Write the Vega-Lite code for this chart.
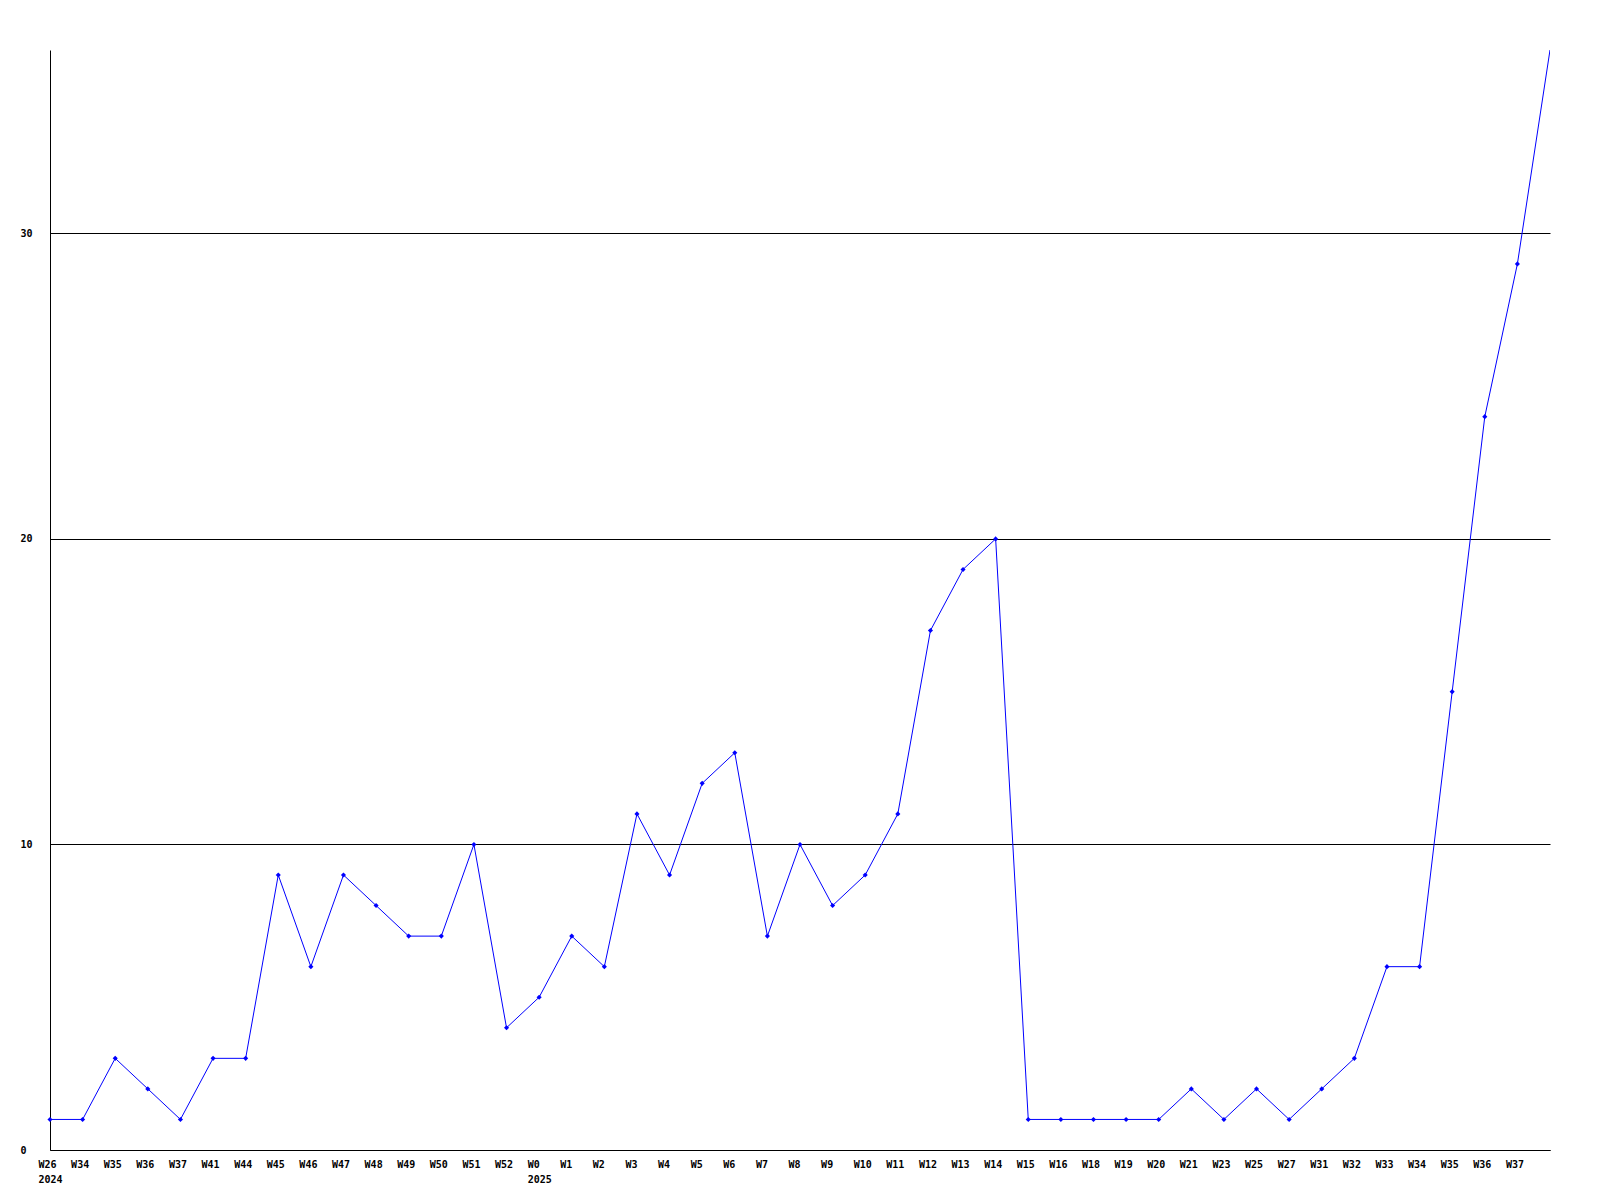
{
  "$schema": "https://vega.github.io/schema/vega-lite/v6.json",
  "width": 1500,
  "height": 1100,
  "autosize": {"type": "none"},
  "padding": {"left": 50, "top": 50, "right": 50, "bottom": 50},
  "background": "white",
  "config": {
    "view": {"stroke": null},
    "axis": {"labelFont": "DejaVu Sans Mono", "labelFontWeight": "bold", "labelFontSize": 10, "labelColor": "black", "domainColor": "black", "domainWidth": 1, "ticks": false}
  },
  "data": {
    "values": [
      {"key": "2024 W26", "count": 1},
      {"key": "2024 W34", "count": 1},
      {"key": "2024 W35", "count": 3},
      {"key": "2024 W36", "count": 2},
      {"key": "2024 W37", "count": 1},
      {"key": "2024 W41", "count": 3},
      {"key": "2024 W44", "count": 3},
      {"key": "2024 W45", "count": 9},
      {"key": "2024 W46", "count": 6},
      {"key": "2024 W47", "count": 9},
      {"key": "2024 W48", "count": 8},
      {"key": "2024 W49", "count": 7},
      {"key": "2024 W50", "count": 7},
      {"key": "2024 W51", "count": 10},
      {"key": "2024 W52", "count": 4},
      {"key": "2025 W0", "count": 5},
      {"key": "2025 W1", "count": 7},
      {"key": "2025 W2", "count": 6},
      {"key": "2025 W3", "count": 11},
      {"key": "2025 W4", "count": 9},
      {"key": "2025 W5", "count": 12},
      {"key": "2025 W6", "count": 13},
      {"key": "2025 W7", "count": 7},
      {"key": "2025 W8", "count": 10},
      {"key": "2025 W9", "count": 8},
      {"key": "2025 W10", "count": 9},
      {"key": "2025 W11", "count": 11},
      {"key": "2025 W12", "count": 17},
      {"key": "2025 W13", "count": 19},
      {"key": "2025 W14", "count": 20},
      {"key": "2025 W15", "count": 1},
      {"key": "2025 W16", "count": 1},
      {"key": "2025 W18", "count": 1},
      {"key": "2025 W19", "count": 1},
      {"key": "2025 W20", "count": 1},
      {"key": "2025 W21", "count": 2},
      {"key": "2025 W23", "count": 1},
      {"key": "2025 W25", "count": 2},
      {"key": "2025 W27", "count": 1},
      {"key": "2025 W31", "count": 2},
      {"key": "2025 W32", "count": 3},
      {"key": "2025 W33", "count": 6},
      {"key": "2025 W34", "count": 6},
      {"key": "2025 W35", "count": 15},
      {"key": "2025 W36", "count": 24},
      {"key": "2025 W37", "count": 29},
      {"key": "2025 W38", "count": 36}
    ]
  },
  "encoding": {
    "x": {
      "field": "key", "type": "ordinal", "sort": null,
      "scale": {"type": "point", "padding": 0},
      "axis": {
        "title": null, "grid": false, "labelAngle": 0, "labelAlign": "left", "labelOffset": -12,
        "labelPadding": 9, "labelBaseline": "top", "labelLineHeight": 15, "labelOverlap": false, "labelFlush": false,
        "labelExpr": "datum.value == '2024 W26' || datum.value == '2025 W0' ? [split(datum.value, ' ')[1], split(datum.value, ' ')[0]] : (datum.value == '2025 W38' ? '' : split(datum.value, ' ')[1])"
      }
    },
    "y": {
      "field": "count", "type": "quantitative",
      "scale": {"domain": [0, 36], "nice": false, "zero": true},
      "axis": {
        "title": null, "values": [0, 10, 20, 30], "grid": true, "gridColor": "black", "gridOpacity": 1, "gridWidth": 1,
        "labelAlign": "left", "labelPadding": 30, "labelBaseline": "middle"
      }
    }
  },
  "layer": [
    {"mark": {"type": "line", "color": "#0000ff", "strokeWidth": 1, "clip": true}},
    {
      "transform": [{"filter": "datum.key != '2025 W38'"}],
      "mark": {"type": "point", "shape": "diamond", "filled": true, "color": "#0000ff", "size": 26, "opacity": 1}
    }
  ]
}
